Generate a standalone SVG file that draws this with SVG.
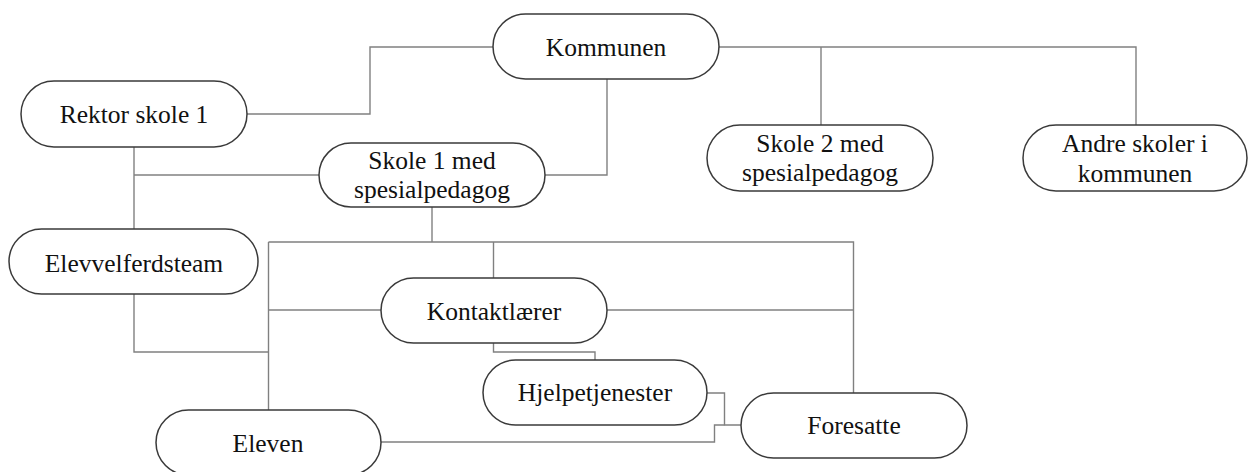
<svg xmlns="http://www.w3.org/2000/svg" width="1248" height="472" viewBox="0 0 1248 472">
<style>
.n{fill:#fff;stroke:#3a3a3a;stroke-width:1.5}
.t{font-family:"Liberation Serif",Tinos,"Times New Roman","DejaVu Serif",serif;font-size:25.5px;fill:#111;text-anchor:middle}
.c{fill:none;stroke:#808080;stroke-width:1.4}
</style>
<rect width="1248" height="472" fill="#fff"/>
<g id="connectors">
<path class="c" d="M247 114 H370 V47 H493"/>
<path class="c" d="M719 47 H1136 V125"/>
<path class="c" d="M821 47 V125"/>
<path class="c" d="M607 79 V175 H545"/>
<path class="c" d="M134 147 V229"/>
<path class="c" d="M134 175 H319"/>
<path class="c" d="M432 207 V242"/>
<path class="c" d="M268.5 242 H853.5 V393"/>
<path class="c" d="M268.5 242 V410"/>
<path class="c" d="M493.5 242 V278"/>
<path class="c" d="M268.5 310 H381"/>
<path class="c" d="M607 310 H853.5"/>
<path class="c" d="M134 294 V352 H268.5"/>
<path class="c" d="M493.5 343 V352 H595 V360"/>
<path class="c" d="M707 393 H724.5 V425 H741"/>
<path class="c" d="M381 442 H714.5 V425 H724.5"/>
</g>
<g id="kommunen"><rect class="n" x="493" y="14" width="226" height="65" rx="32.5"/><text class="t" x="606" y="56">Kommunen</text></g>
<g id="rektor"><rect class="n" x="21" y="81" width="226" height="66" rx="33"/><text class="t" x="134" y="123">Rektor skole 1</text></g>
<g id="skole1"><rect class="n" x="319" y="143" width="226" height="64" rx="32"/><text class="t" x="432" y="169">Skole 1 med</text><text class="t" x="432" y="198">spesialpedagog</text></g>
<g id="skole2"><rect class="n" x="707" y="125" width="226" height="66" rx="33"/><text class="t" x="820" y="152">Skole 2 med</text><text class="t" x="820" y="181">spesialpedagog</text></g>
<g id="andre"><rect class="n" x="1023" y="125" width="224" height="66" rx="33"/><text class="t" x="1135" y="152">Andre skoler i</text><text class="t" x="1135" y="182">kommunen</text></g>
<g id="elevvelferdsteam"><rect class="n" x="9" y="229" width="249" height="65" rx="32.5"/><text class="t" x="134" y="272">Elevvelferdsteam</text></g>
<g id="kontaktlaerer"><rect class="n" x="381" y="278" width="226" height="65" rx="32.5"/><text class="t" x="494" y="320">Kontaktlærer</text></g>
<g id="hjelpetjenester"><rect class="n" x="483" y="360" width="224" height="65" rx="32.5"/><text class="t" x="595" y="401">Hjelpetjenester</text></g>
<g id="foresatte"><rect class="n" x="741" y="393" width="226" height="65" rx="32.5"/><text class="t" x="854" y="434">Foresatte</text></g>
<g id="eleven"><rect class="n" x="156" y="410" width="225" height="65" rx="32.5"/><text class="t" x="268" y="452">Eleven</text></g>
</svg>
